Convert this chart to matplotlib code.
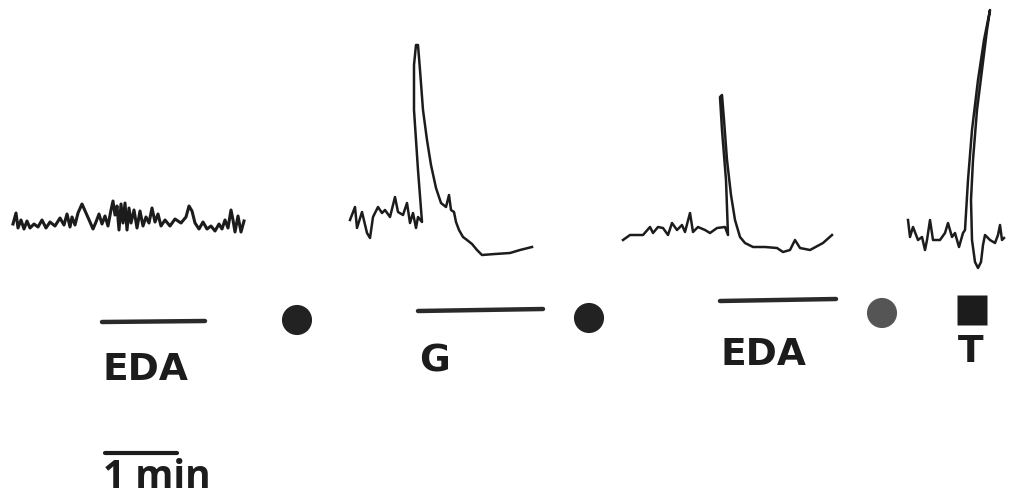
import numpy as np
import matplotlib.pyplot as plt

eda1_x = [13, 16, 18, 21, 24, 27, 30, 34, 38, 42, 46, 50, 55, 60, 64, 67, 70, 72, 75, 78,
          82, 86, 90, 93, 96, 99, 102, 105, 108, 111, 113, 115, 117, 119, 121, 123, 125, 127,
          129, 131, 134, 137, 140, 143, 146, 149, 152, 155, 158, 161, 165, 170, 175, 181, 186,
          189, 192, 195, 199, 203, 207, 211, 215, 219, 222, 225, 228, 231, 233, 235, 238, 241, 244]
eda1_y = [224, 213, 228, 220, 229, 221, 228, 224, 227, 220, 228, 222, 226, 218, 225, 214, 227, 217, 225, 213,
          204, 213, 222, 229, 222, 214, 224, 216, 226, 210, 201, 215, 206, 230, 204, 223, 203, 230,
          208, 223, 210, 228, 211, 226, 217, 223, 208, 222, 214, 226, 220, 226, 219, 223, 217,
          206, 211, 223, 229, 222, 229, 226, 231, 224, 229, 220, 228, 210, 220, 232, 216, 232, 221]

g_x = [350, 355, 357, 362, 367, 370, 373, 378, 382, 385, 390, 395, 398, 403, 407, 410, 413, 416, 418, 422,
       418, 414, 414, 416, 418, 420, 423, 427, 431, 436, 441, 446, 449, 451, 454, 456, 459, 463, 467,
       472, 477, 482, 495, 510, 520, 532]
g_y = [220, 207, 228, 212, 233, 238, 217, 207, 213, 210, 217, 197, 212, 215, 203, 223, 213, 228, 217, 222,
       170, 110, 65, 45, 45, 70, 110, 140, 165, 188, 203, 207, 195, 210, 212, 222, 230, 237, 240,
       244, 250, 255, 254, 253, 250, 247]

eda2_x = [623, 630, 643, 650, 653, 658, 663, 668, 672, 677, 682, 685, 690, 693, 698, 705, 710, 717, 725, 728,
          726, 722, 720, 722, 724, 727, 731, 735, 740, 745, 753, 765, 777, 783, 790, 795, 800, 810, 823, 832]
eda2_y = [240, 235, 235, 227, 233, 227, 228, 235, 223, 230, 225, 232, 213, 232, 227, 230, 233, 228, 227, 235,
          180, 130, 97, 95, 120, 160, 195, 220, 237, 243, 247, 247, 248, 252, 250, 240, 248, 250, 243, 235]

t_x = [908, 910, 913, 918, 922, 925, 927, 930, 933, 940, 945, 948, 952, 955, 959, 963, 965,
       968, 972, 978, 984, 990, 987, 982, 977, 973, 971, 972, 975, 978, 981, 983, 985, 990, 995, 998,
       1000, 1002, 1004]
t_y = [220, 237, 227, 240, 237, 250, 240, 220, 240, 240, 233, 223, 237, 233, 247, 233, 230,
       180, 130, 80, 40, 10, 30, 70, 110, 160, 200, 240, 262, 268, 262, 245, 235, 240, 243, 235,
       225, 240, 238]

# stimulus bars and labels
bar_x0 = [102, 418, 720]
bar_x1 = [205, 543, 836]
bar_y0 = [322, 311, 301]
bar_y1 = [321, 309, 299]
bar_labels = ["EDA", "G", "EDA"]
label_base = [380, 372, 365]

dot_x = [297, 589, 882]
dot_y = [320, 318, 313]
dot_colors = ["#222222", "#222222", "#555555"]

ink = "#1c1c1c"

fig = plt.figure(figsize=(10.27, 5.03), dpi=100)
ax = fig.add_axes([0, 0, 1, 1])
ax.set_xlim(0, 1027)
ax.set_ylim(503, 0)
ax.axis("off")

ax.plot(eda1_x, eda1_y, color=ink, lw=2.2, solid_joinstyle="round")
for xs, ys in [(g_x, g_y), (eda2_x, eda2_y), (t_x, t_y)]:
    ax.plot(xs, ys, color=ink, lw=1.8, solid_joinstyle="round")

for x0, x1, y0, y1, lab, ly in zip(bar_x0, bar_x1, bar_y0, bar_y1, bar_labels, label_base):
    ax.plot([x0, x1], [y0, y1], color="#2a2a2a", lw=3.2, solid_capstyle="round")
    ax.text(x0 + 1, ly, lab, fontsize=27, fontweight="bold", color=ink,
            ha="left", va="baseline", family="DejaVu Sans")

ax.scatter(dot_x, dot_y, s=470, c=dot_colors, edgecolors="none")

# tone marker
ax.plot([972], [310], marker="s", ms=21.5, color=ink, mec="none")
ax.text(971, 362, "T", fontsize=27, fontweight="bold", color=ink,
        ha="center", va="baseline", family="DejaVu Sans")

# time scale
ax.plot([105, 177], [453, 453], color=ink, lw=3, solid_capstyle="round")
ax.text(103, 488, "1 min", fontsize=28, fontweight="bold", color=ink,
        ha="left", va="baseline", family="Open Sans")

fig.savefig("out.png", dpi=100)
